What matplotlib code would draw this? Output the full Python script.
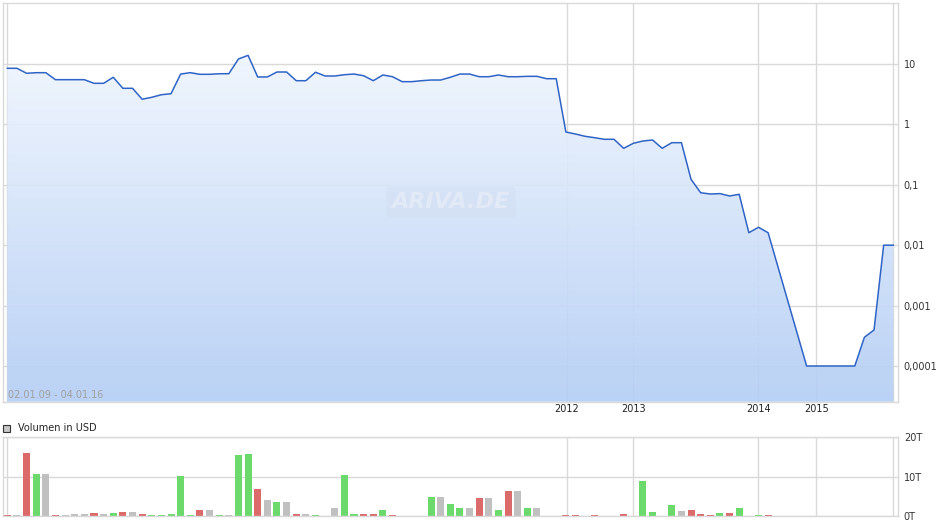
#!/usr/bin/env python3
# -*- coding: utf-8 -*-
"""
ARIVA-style price chart (log scale, 02.01.09 - 04.01.16) with volume panel below.
x axis is the bar index (irregular dates), years are marked by gridlines.
"""
import numpy as np
import matplotlib
matplotlib.use("Agg")
import matplotlib.pyplot as plt
from matplotlib.patches import Rectangle
from matplotlib.ticker import NullLocator

# closing price in USD, one entry per bar (None = no quote, line is joined over it)
price = [8.49, 8.49, 7.02, 7.18, 7.18, 5.50, 5.50, 5.50, 5.50, 4.79,
         4.79, 6.03, 3.96, 3.96, 2.61, 2.81, 3.10, 3.22, 6.82, 7.18,
         6.75, 6.75, 6.90, 6.90, 12.1, 13.9, 6.10, 6.10, 7.37, 7.37,
         5.29, 5.29, 7.31, 6.33, 6.33, 6.65, 6.82, 6.40, 5.29, 6.58,
         6.16, 5.10, 5.10, 5.29, 5.43, 5.43, 6.03, 6.82, 6.82, 6.16,
         6.16, 6.58, 6.16, 6.16, 6.25, 6.25, 5.71, 5.71, 0.748, 0.693,
         0.635, 0.602, 0.567, 0.567, 0.402, 0.486, 0.531, 0.552, 0.402, 0.498,
         0.498, 0.123, 0.0739, 0.0704, 0.0715, 0.0653, 0.0696, 0.0161, 0.0198, 0.0161,
         None, None, None, 0.0001, 0.0001, 0.0001, 0.0001, 0.0001, 0.0001, 0.000299,
         0.000395, 0.01, 0.01]

# volume in T (USD)
volume = [0.3, 0.3, 16.1, 10.7, 10.7, 0.3, 0.3, 0.6, 0.6, 0.8,
          0.6, 0.8, 1.1, 1.1, 0.6, 0.3, 0.3, 0.6, 10.2, 0.3,
          1.5, 1.5, 0.3, 0.3, 15.6, 15.8, 7.0, 4.0, 3.5, 3.5,
          0.6, 0.6, 0.3, 0.1, 2.0, 10.4, 0.6, 0.6, 0.6, 1.5,
          0.3, 0.1, 0.1, 0.1, 5.0, 5.0, 3.0, 2.0, 2.0, 4.75,
          4.75, 1.5, 6.5, 6.5, 2.0, 2.0, 0.1, 0.1, 0.3, 0.3,
          0.1, 0.3, 0.1, 0.1, 0.6, 0.1, 9.0, 1.1, 0.1, 2.8,
          1.3, 1.5, 0.6, 0.3, 0.8, 0.8, 2.0, 0.1, 0.3, 0.3,
          0, 0, 0.05, 0, 0, 0, 0.05, 0, 0.05, 0,
          0, 0.1, 0.1]

# bar direction: u = up, d = down, n = unchanged
direction = ("dndundnnnd" "nudnduuuuu" "dnunuudnun" "dnudnuuddu" "ddnuunuund"
             "nudnundndd" "dddnduuudu" "ndddududud" "nnnnnnnnnu" "uun")

year_labels = ["2012", "2013", "2014", "2015"]
year_pos = [58.1, 65.0, 78.0, 84.0]
price_ticks = [10, 1, 0.1, 0.01, 0.001, 0.0001]
price_tick_labels = ["10", "1", "0,1", "0,01", "0,001", "0,0001"]
vol_ticks = [0, 10, 20]
vol_tick_labels = ["0T", "10T", "20T"]

GRID = "#d9d9d9"
LINE = "#2f64c6"
BAR_COL = {"u": "#6cd96c", "d": "#db6a6a", "n": "#c0c0c0"}
W, H = 940, 526


def style_axes(ax):
    for s in ax.spines.values():
        s.set_color(GRID)
        s.set_linewidth(1)
    ax.set_axisbelow(True)
    ax.grid(True, color=GRID, lw=1)
    ax.yaxis.tick_right()
    ax.yaxis.set_minor_locator(NullLocator())
    ax.tick_params(axis="y", length=0, pad=4, labelsize=7, labelcolor="#333333")
    ax.tick_params(axis="x", length=0, pad=2, labelsize=7, labelcolor="#222222")
    ax.set_xticks(year_pos)
    for xv in (0, len(price) - 1):
        ax.axvline(xv, color=GRID, lw=1, zorder=0.6)
    ax.set_xlim(-0.48, len(price) - 1 + 0.52)


fig = plt.figure(figsize=(W / 100, H / 100), dpi=100)
left, width = 2.7 / W, 895.6 / W
ax = fig.add_axes([left, 1 - 401.7 / H, width, 398.4 / H])
axv = fig.add_axes([left, 1 - 516.3 / H, width, 79.0 / H])

# --- price panel
idx = np.arange(len(price))
ok = np.array([p is not None for p in price])
x = idx[ok]
y = np.array([p for p in price if p is not None], dtype=float)

ax.set_yscale("log")
ybot, ytop = 10 ** -4.591, 10 ** 2.005
ax.set_ylim(ybot, ytop)
style_axes(ax)
ax.set_yticks(price_ticks, price_tick_labels)
ax.set_xticklabels(year_labels)

# gradient area under the line (slightly see-through so the grid shows faintly)
poly = ax.fill_between(x, y, ybot, facecolor="none", edgecolor="none")
top_c = np.array([248, 251, 255]) / 255
bot_c = np.array([180, 206, 245]) / 255
t = np.linspace(0, 1, 256)[:, None]
grad = (top_c * (1 - t) + bot_c * t)[:, None, :]
im = ax.imshow(grad, extent=[0, 1, 0, 1], transform=ax.transAxes, aspect="auto",
               alpha=0.92, zorder=1, interpolation="bilinear")
im.set_clip_path(poly.get_paths()[0], transform=ax.transData)
ax.plot(x, y, color=LINE, lw=1.1, zorder=3)

ax.text(0.5006, 0.501, "ARIVA.DE", transform=ax.transAxes, ha="center", va="center",
        fontsize=16, fontweight="bold", style="italic", color="#e2eaf8", zorder=2,
        bbox=dict(boxstyle="round,pad=0.25", fc="#d3dff2", ec="none", alpha=0.6))
fig.text(8 / W, 1 - 395 / H, "02.01.09 - 04.01.16", color="#a0a0a0", fontsize=7,
         va="center", ha="left")

# --- volume panel
axv.set_ylim(0, 20)
style_axes(axv)
axv.set_yticks(vol_ticks, vol_tick_labels)
axv.set_xticklabels([])
axv.bar(idx, volume, width=0.73, color=[BAR_COL[c] for c in direction], zorder=2)

fig.add_artist(Rectangle((2.7 / W, 1 - 431.7 / H), 7 / W, 6.7 / H, transform=fig.transFigure,
                         facecolor="#c8c8c8", edgecolor="#333333", lw=0.8))
fig.text(18 / W, 1 - 428 / H, "Volumen in USD", color="#222222", fontsize=7,
         va="center", ha="left")

fig.savefig("out.png", dpi=100)
